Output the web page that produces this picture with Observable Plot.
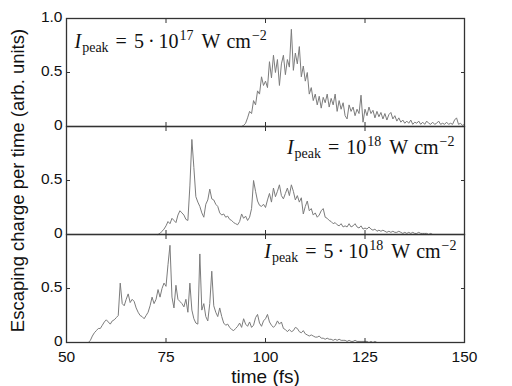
<!DOCTYPE html>
<html><head><meta charset="utf-8">
<script src="https://cdn.jsdelivr.net/npm/d3@7"></script>
<script src="https://cdn.jsdelivr.net/npm/@observablehq/plot@0.6"></script>
<style>body{margin:0;background:#fff}</style>
</head><body><div id="chart"></div>
<script>
const panels = ["a", "b", "c"];
const step = 0.5;

const startA = 94;
const valuesA = [0,0.01,0.03,0.08,0.14,0.12,0.24,0.20,0.33,0.30,0.46,0.38,0.42,0.36,0.60,0.45,0.66,0.50,0.62,0.38,
0.58,0.66,0.48,0.62,0.55,0.90,0.52,0.68,0.58,0.74,0.46,0.56,0.42,0.50,0.30,0.36,0.24,0.30,0.20,0.28,
0.17,0.27,0.22,0.30,0.18,0.26,0.20,0.30,0.14,0.24,0.16,0.22,0.10,0.07,0.20,0.14,0.18,0.10,0.16,0.12,
0.29,0.04,0.16,0.10,0.18,0.12,0.15,0.08,0.14,0.09,0.13,0.07,0.12,0.06,0.11,0.13,0.07,0.10,0.05,0.08,
0.04,0.06,0.03,0.05,0.03,0.06,0.02,0.04,0.03,0.05,0.02,0.04,0.02,0.05,0.03,0.02,0.04,0.02,0.03,0.05,
0.02,0.03,0.02,0.04,0.02,0.03,0.02,0.06,0.08,0.02,0.03,0.01,0.02];

const startB = 73;
const valuesB = [0,0.01,0.03,0.05,0.08,0.12,0.10,0.15,0.13,0.11,0.18,0.22,0.20,0.18,0.14,0.13,0.45,0.88,0.62,0.35,
0.30,0.26,0.20,0.16,0.28,0.32,0.42,0.33,0.32,0.28,0.26,0.20,0.18,0.19,0.16,0.17,0.14,0.13,0.11,0.10,
0.09,0.12,0.19,0.15,0.17,0.13,0.16,0.24,0.50,0.40,0.31,0.27,0.26,0.28,0.25,0.32,0.38,0.30,0.43,0.35,
0.40,0.46,0.36,0.33,0.38,0.43,0.36,0.46,0.40,0.32,0.36,0.30,0.34,0.19,0.26,0.31,0.22,0.24,0.18,0.20,
0.16,0.18,0.22,0.24,0.16,0.15,0.13,0.12,0.10,0.11,0.09,0.08,0.10,0.07,0.08,0.07,0.10,0.07,0.08,0.10,
0.07,0.06,0.08,0.05,0.06,0.05,0.07,0.05,0.04,0.05,0.03,0.04,0.03,0.04,0.03,0.02,0.03,0.02,0.03,0.02,
0.02,0.03,0.02,0.01,0.02,0.01,0.02,0.01,0.02,0.01,0.01,0.02,0.01,0.01,0.01,0.01,0.00,0.01,0.00,0.00,
0,0,0,0,0,0,0,0,0,0,0,0,0,0,0];

const startC = 55;
const valuesC = [0,0,0.02,0.06,0.09,0.11,0.13,0.13,0.16,0.19,0.21,0.19,0.17,0.20,0.21,0.23,0.25,0.55,0.36,0.34,
0.40,0.45,0.37,0.40,0.38,0.32,0.28,0.25,0.24,0.22,0.25,0.28,0.34,0.42,0.36,0.40,0.49,0.42,0.50,0.55,
0.52,0.72,0.90,0.42,0.32,0.53,0.40,0.38,0.36,0.33,0.40,0.28,0.55,0.30,0.22,0.18,0.17,0.82,0.30,0.36,
0.24,0.20,0.36,0.66,0.34,0.28,0.24,0.32,0.24,0.18,0.16,0.17,0.14,0.12,0.11,0.13,0.15,0.18,0.14,0.22,
0.17,0.15,0.19,0.14,0.16,0.23,0.26,0.18,0.15,0.20,0.22,0.26,0.19,0.16,0.14,0.16,0.20,0.17,0.19,0.13,
0.12,0.10,0.12,0.10,0.11,0.14,0.13,0.10,0.09,0.11,0.08,0.07,0.06,0.07,0.06,0.05,0.05,0.06,0.04,0.04,
0.03,0.04,0.03,0.03,0.02,0.03,0.02,0.03,0.02,0.02,0.02,0.01,0.02,0.01,0.01,0.02,0.01,0.01,0.01,0.01,
0.01,0.01,0.00,0.01,0.00,0.01,0.00,0.00,0,0,0,0,0,0,0,0,0,0,0,0,
0,0,0,0,0,0,0,0,0,0,0,0,0,0,0,0,0,0,0,0,0];

const xTicks = [50, 75, 100, 125, 150];
const innerXTicks = [75, 100, 125];
const innerYTicks = [0.5];
const yTickPanels = ["a", "a", "a", "b", "b", "c", "c"];
const yTickValues = [0, 0.5, 1, 0, 0.5, 0, 0.5];
const yTickTexts = ["0", "0.5", "1.0", "0", "0.5", "0", "0.5"];
const annotPanels = ["a", "b", "c"];
const annotCoef = ["5", "", "5"];
const annotExp = ["17", "18", "18"];
const xLabel = "time (fs)";
const yLabel = "Escaping charge per time (arb. units)";

const series = [["a", startA, valuesA], ["b", startB, valuesB], ["c", startC, valuesC]]
  .flatMap(([p, s, vals]) => vals.map((v, i) => ({panel: p, t: s + i * step, v})));
const yTickRows = yTickPanels.map((p, i) => ({panel: p, v: yTickValues[i], label: yTickTexts[i]}));
const annots = annotPanels.map((p, i) => ({panel: p, coef: annotCoef[i], exp: annotExp[i],
  label: `I_peak = ${annotCoef[i] ? annotCoef[i] + " · " : ""}10^${annotExp[i]} W cm^-2`}));

const serif = "'Liberation Serif', 'Times New Roman', serif";
const annotFont = 20;
const plot = Plot.plot({
  width: 512, height: 386,
  marginLeft: 66, marginRight: 48, marginTop: 17, marginBottom: 43,
  style: {fontFamily: "'Liberation Sans', Arial, sans-serif", fontSize: "16px", background: "white", color: "#111"},
  x: {domain: [50, 150]},
  y: {domain: [0, 1]},
  fy: {domain: panels, padding: 0, axis: null},
  marks: [
    Plot.line(series, {x: "t", y: "v", fy: "panel", stroke: "#7c7c7c", strokeWidth: 1}),
    Plot.frame({stroke: "#333", strokeWidth: 1.3}),
    Plot.axisX(xTicks, {anchor: "bottom", tickSize: 0, tickPadding: 8, fontSize: 15.5, label: null}),
    Plot.axisX(innerXTicks, {anchor: "bottom", tickSize: -4, tickFormat: () => "", facetAnchor: null, label: null, stroke: "#333"}),
    Plot.axisX(innerXTicks, {anchor: "top", tickSize: -4, tickFormat: () => "", facetAnchor: null, label: null, stroke: "#333"}),
    Plot.axisY(innerYTicks, {anchor: "left", tickSize: -4, tickFormat: () => "", label: null, stroke: "#333"}),
    Plot.axisY(innerYTicks, {anchor: "right", tickSize: -4, tickFormat: () => "", label: null, stroke: "#333"}),
    Plot.text(yTickRows, {fy: "panel", y: "v", text: "label", frameAnchor: "left", textAnchor: "end", dx: -4, dy: -1.5, fontSize: 15.5}),
    Plot.text([yLabel], {text: d => d, frameAnchor: "left", textAnchor: "middle", lineAnchor: "middle", rotate: -90, dx: -48, facet: "super", fontSize: 18.5}),
    Plot.text([xLabel], {text: d => d, frameAnchor: "bottom", textAnchor: "middle", lineAnchor: "middle", dy: 34, facet: "super", fontSize: 19}),
    Plot.text(annots.filter(d => d.panel === "a"), {fy: "panel", text: "label", frameAnchor: "top-left", textAnchor: "start", lineAnchor: "middle", dx: 8, dy: 23.5, fontFamily: serif, fontSize: annotFont}),
    Plot.text(annots.filter(d => d.panel === "b"), {fy: "panel", text: "label", frameAnchor: "top-right", textAnchor: "end", lineAnchor: "middle", dx: -10, dy: 21, fontFamily: serif, fontSize: annotFont}),
    Plot.text(annots.filter(d => d.panel === "c"), {fy: "panel", text: "label", frameAnchor: "top-right", textAnchor: "end", lineAnchor: "middle", dx: -8, dy: 17.5, fontFamily: serif, fontSize: annotFont})
  ]
});
document.getElementById("chart").appendChild(plot);

// typeset the intensity labels with sub/superscripts
d3.select(plot).selectAll("text").each(function() {
  const m = this.textContent.trim().match(/^I_peak = (?:(\d+) · )?10\^(\d+) W cm\^-(\d+)$/);
  if (!m) return;
  const t = d3.select(this);
  t.selectAll("*").remove();
  t.text(null);
  const small = "14px";
  t.append("tspan").attr("font-style", "italic").text("I");
  t.append("tspan").attr("font-size", small).attr("dy", 4).attr("dx", 1).text("peak");
  t.append("tspan").attr("dy", -4).attr("dx", 7).text("=");
  if (m[1]) {
    t.append("tspan").attr("dx", 7).text(m[1]);
    t.append("tspan").attr("dx", 4).text("·");
    t.append("tspan").attr("dx", 4).text("10");
  } else {
    t.append("tspan").attr("dx", 7).text("10");
  }
  t.append("tspan").attr("font-size", small).attr("dy", -8).attr("dx", 1).text(m[2]);
  t.append("tspan").attr("dy", 8).attr("dx", 8).text("W");
  t.append("tspan").attr("dx", 6).text("cm");
  t.append("tspan").attr("font-size", small).attr("dy", -8).attr("dx", 1).text("−" + m[3]);
});
</script></body></html>
